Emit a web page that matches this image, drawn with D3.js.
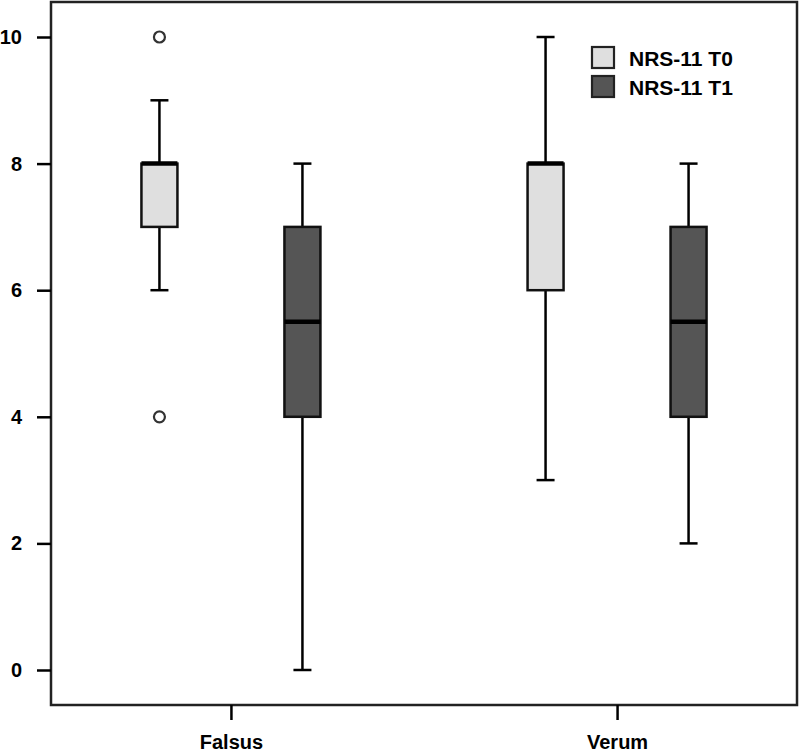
<!DOCTYPE html>
<html>
<head>
<meta charset="utf-8">
<script src="https://cdn.jsdelivr.net/npm/d3@7"></script>
<style>
  body { margin: 0; background: #fff; }
  svg text { font-family: "Liberation Sans", Arial, sans-serif; font-weight: bold; fill: #000; }
</style>
</head>
<body>
<div id="chart"></div>
<script>
// groups and series
const groups = ["Falsus", "Verum"];
const series = ["NRS-11 T0", "NRS-11 T1"];
const seriesFill = ["#dfdfdf", "#555555"];

// box stats per group, in series order: [whiskerLow, q1, median, q3, whiskerHigh]
const falsusStats = [[6, 7, 8, 8, 9], [0, 4, 5.5, 7, 8]];
const verumStats = [[3, 6, 8, 8, 10], [2, 4, 5.5, 7, 8]];
// outliers (only Falsus T0)
const falsusOutliers = [[10, 4], []];
const verumOutliers = [[], []];

const yTicks = [0, 2, 4, 6, 8, 10];

const width = 800, height = 754;
const frame = { left: 51, top: 2, right: 797, bottom: 705 };

const svg = d3.select("#chart").append("svg")
  .attr("width", width).attr("height", height);

const y = d3.scaleLinear().domain([-0.553, 10.553]).range([frame.bottom, frame.top]);
const x = d3.scalePoint().domain(groups).range([frame.left, frame.right]).padding(0.466);
const xs = d3.scalePoint().domain(series).range([-71.5, 71.5]);
const boxW = 36, capW = 18, lw = 2.5;

const boxes = [];
groups.forEach((g, gi) => {
  const stats = gi === 0 ? falsusStats : verumStats;
  const outs = gi === 0 ? falsusOutliers : verumOutliers;
  series.forEach((s, si) => {
    const [lo, q1, med, q3, hi] = stats[si];
    boxes.push({ g, s, si, lo, q1, med, q3, hi, outs: outs[si] });
  });
});

const bx = svg.selectAll(".box").data(boxes).enter().append("g")
  .attr("class", "box")
  .attr("transform", d => `translate(${x(d.g) + xs(d.s)},0)`);

// whiskers
bx.append("line").attr("x1", 0).attr("x2", 0)
  .attr("y1", d => y(d.hi)).attr("y2", d => y(d.q3))
  .attr("stroke", "#000").attr("stroke-width", lw);
bx.append("line").attr("x1", 0).attr("x2", 0)
  .attr("y1", d => y(d.q1)).attr("y2", d => y(d.lo))
  .attr("stroke", "#000").attr("stroke-width", lw);
bx.append("line").attr("x1", -capW / 2).attr("x2", capW / 2)
  .attr("y1", d => y(d.hi)).attr("y2", d => y(d.hi))
  .attr("stroke", "#000").attr("stroke-width", lw);
bx.append("line").attr("x1", -capW / 2).attr("x2", capW / 2)
  .attr("y1", d => y(d.lo)).attr("y2", d => y(d.lo))
  .attr("stroke", "#000").attr("stroke-width", lw);

// box
bx.append("rect")
  .attr("x", -boxW / 2).attr("width", boxW)
  .attr("y", d => y(d.q3)).attr("height", d => y(d.q1) - y(d.q3))
  .attr("fill", d => seriesFill[d.si])
  .attr("stroke", "#111").attr("stroke-width", lw);

// median
bx.append("line").attr("x1", -boxW / 2).attr("x2", boxW / 2)
  .attr("y1", d => y(d.med)).attr("y2", d => y(d.med))
  .attr("stroke", "#000").attr("stroke-width", 4.5);

// outliers
bx.selectAll("circle").data(d => d.outs).enter().append("circle")
  .attr("cx", 0).attr("cy", v => y(v)).attr("r", 5.5)
  .attr("fill", "#fff").attr("stroke", "#333").attr("stroke-width", 2.2);

// frame
svg.append("rect")
  .attr("x", frame.left).attr("y", frame.top)
  .attr("width", frame.right - frame.left).attr("height", frame.bottom - frame.top)
  .attr("fill", "none").attr("stroke", "#222").attr("stroke-width", lw);

// y axis
const yAxis = svg.append("g")
  .attr("transform", `translate(${frame.left},0)`)
  .call(d3.axisLeft(y).tickValues(yTicks).tickSize(14).tickPadding(15));
yAxis.select(".domain").remove();
yAxis.selectAll("line").attr("stroke", "#000").attr("stroke-width", lw);
yAxis.selectAll("text").style("font-size", "20px").attr("fill", "#000");

// x axis
const xAxis = svg.append("g")
  .attr("transform", `translate(0,${frame.bottom})`)
  .call(d3.axisBottom(x).tickSize(15).tickPadding(15));
xAxis.select(".domain").remove();
xAxis.selectAll("line").attr("stroke", "#000").attr("stroke-width", lw);
xAxis.selectAll("text").style("font-size", "20px").attr("fill", "#000");

// legend
const legend = svg.append("g").attr("transform", "translate(592,47)");
const li = legend.selectAll("g").data(series).enter().append("g")
  .attr("transform", (d, i) => `translate(0,${i * 29})`);
li.append("rect").attr("width", 22).attr("height", 21)
  .attr("fill", (d, i) => seriesFill[i]).attr("stroke", "#222").attr("stroke-width", 2.2);
li.append("text").attr("x", 37).attr("y", 11).attr("dy", "0.36em")
  .style("font-size", "21px").text(d => d);
</script>
</body>
</html>
